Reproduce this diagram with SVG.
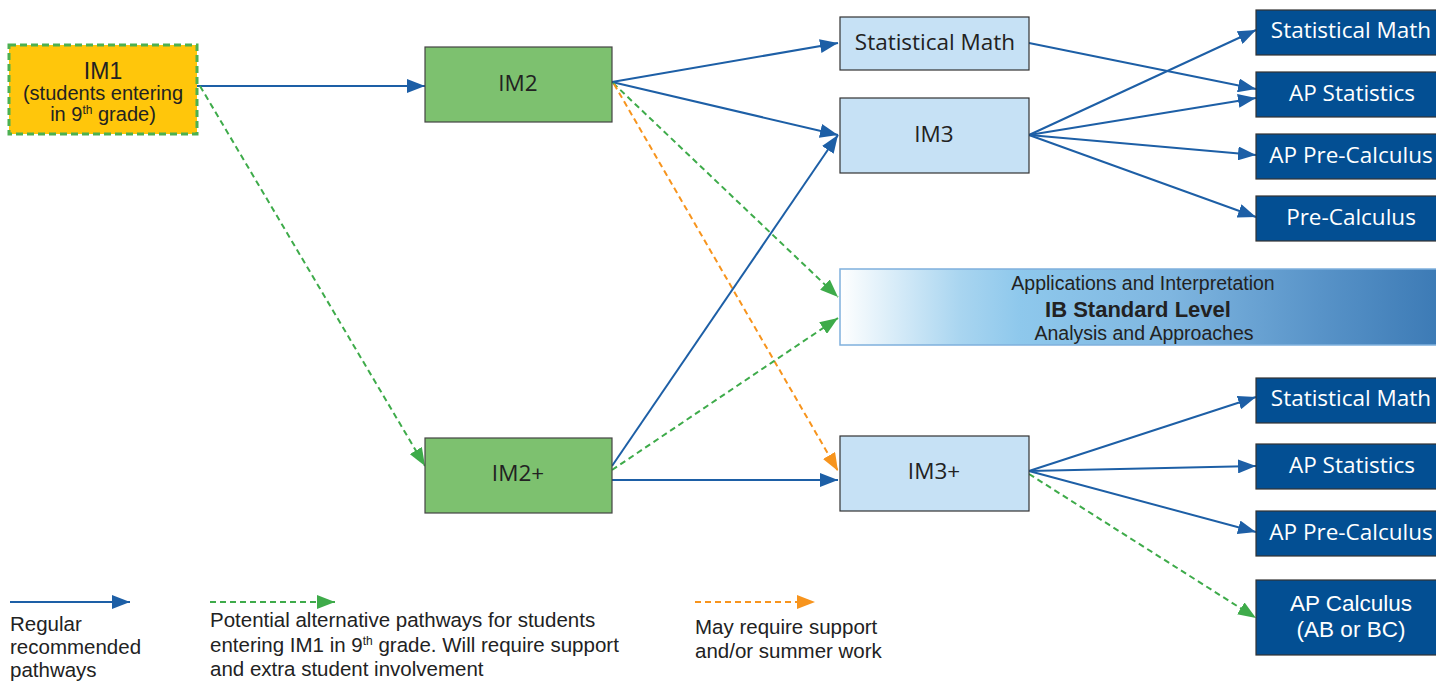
<svg xmlns="http://www.w3.org/2000/svg" width="1436" height="682" viewBox="0 0 1436 682">
<defs>
<linearGradient id="ibg" x1="0" y1="0" x2="1" y2="0">
<stop offset="0" stop-color="#ffffff"/>
<stop offset="0.2" stop-color="#a9d5f0"/>
<stop offset="0.3" stop-color="#8ec8ec"/>
<stop offset="0.55" stop-color="#7fb6e0"/>
<stop offset="0.8" stop-color="#5893c8"/>
<stop offset="1" stop-color="#3c7ab5"/>
</linearGradient>
<marker id="ab" markerUnits="userSpaceOnUse" markerWidth="20" markerHeight="14" refX="18" refY="7" orient="auto"><path d="M0,0 L18,7 L0,14 Z" fill="#1d5fa6"/></marker>
<marker id="ag" markerUnits="userSpaceOnUse" markerWidth="20" markerHeight="14" refX="18" refY="7" orient="auto"><path d="M0,0 L18,7 L0,14 Z" fill="#3eab4a"/></marker>
<marker id="ao" markerUnits="userSpaceOnUse" markerWidth="20" markerHeight="14" refX="18" refY="7" orient="auto"><path d="M0,0 L18,7 L0,14 Z" fill="#f7941d"/></marker>
</defs>
<style>
text{font-family:"Open Sans","Liberation Sans",sans-serif;text-anchor:middle}
.ls{font-family:"Liberation Sans",Arial,sans-serif}
.dk{fill:#034f93;stroke:#333;stroke-width:1.2}
.lt{fill:#c6e1f5;stroke:#333;stroke-width:1.2}
.gr{fill:#7dc16f;stroke:#444;stroke-width:1.2}
.tb{font-size:22.5px;fill:#222}
.tw{font-size:22.5px;fill:#fff}
.b{fill:none;stroke:#1d5fa6;stroke-width:2;marker-end:url(#ab)}
.g{fill:none;stroke:#3eab4a;stroke-width:2;stroke-dasharray:6,4;marker-end:url(#ag)}
.o{fill:none;stroke:#f7941d;stroke-width:2;stroke-dasharray:6,4;marker-end:url(#ao)}
.lg{font-family:"Liberation Sans",Arial,sans-serif;font-size:20.5px;fill:#222;text-anchor:start}
</style>
<g id="connectors">
<path class="b" d="M197,86 L425,86"/>
<path class="g" d="M200,86 L425,466"/>
<path class="b" d="M612,82 L838,43"/>
<path class="b" d="M612,82 L838,135"/>
<path class="g" d="M613,83 L838,297"/>
<path class="o" d="M614,84 L838,471"/>
<path class="b" d="M612,466 L838,135"/>
<path class="g" d="M612,470 L838,318"/>
<path class="b" d="M612,480 L838,480"/>
<path class="b" d="M1029,43 L1256,89"/>
<path class="b" d="M1029,135 L1256,30"/>
<path class="b" d="M1029,135 L1256,98"/>
<path class="b" d="M1029,135 L1256,155"/>
<path class="b" d="M1029,135 L1256,217"/>
<path class="b" d="M1029,471 L1256,397"/>
<path class="b" d="M1029,471 L1256,466"/>
<path class="b" d="M1029,471 L1256,532"/>
<path class="g" d="M1029,474 L1256,618"/>
</g>
<g id="im1">
<rect x="9" y="45" width="188" height="89" fill="#ffc60b" stroke="#4cb050" stroke-width="3" stroke-dasharray="7,4"/>
<text class="ls" x="103" y="79" font-size="23" fill="#222">IM1</text>
<text class="ls" x="103" y="100" font-size="20" fill="#222">(students entering</text>
<text class="ls" x="103" y="121" font-size="20" fill="#222">in 9<tspan font-size="12" dy="-7">th</tspan><tspan dy="7"> grade)</tspan></text>
</g>
<g id="im2"><rect class="gr" x="425" y="47" width="187" height="75"/><text class="tb" x="518" y="91">IM2</text></g>
<g id="im2p"><rect class="gr" x="425" y="438" width="187" height="75"/><text class="tb" x="518" y="481">IM2+</text></g>
<g id="statmath1"><rect class="lt" x="840" y="17" width="189" height="53"/><text class="tb" x="935" y="50">Statistical Math</text></g>
<g id="im3"><rect class="lt" x="840" y="98" width="189" height="75"/><text class="tb" x="934" y="142">IM3</text></g>
<g id="im3p"><rect class="lt" x="840" y="436" width="189" height="75"/><text class="tb" x="934" y="479">IM3+</text></g>
<g id="ib">
<rect x="840" y="269" width="600" height="76" fill="url(#ibg)" stroke="#7fb0dd" stroke-width="1.5"/>
<text class="ls" x="1143" y="290" font-size="19.5" fill="#222">Applications and Interpretation</text>
<text class="ls" x="1138" y="317" font-size="22" font-weight="bold" fill="#222">IB Standard Level</text>
<text class="ls" x="1144" y="340" font-size="19.5" fill="#222">Analysis and Approaches</text>
</g>
<g id="d1"><rect class="dk" x="1256" y="10" width="184" height="45"/><text class="tw" x="1351" y="38">Statistical Math</text></g>
<g id="d2"><rect class="dk" x="1256" y="72" width="184" height="45"/><text class="tw" x="1352" y="101">AP Statistics</text></g>
<g id="d3"><rect class="dk" x="1256" y="134" width="184" height="45"/><text class="tw" x="1351" y="163">AP Pre-Calculus</text></g>
<g id="d4"><rect class="dk" x="1256" y="196" width="184" height="45"/><text class="tw" x="1351" y="225">Pre-Calculus</text></g>
<g id="d5"><rect class="dk" x="1256" y="378" width="184" height="45"/><text class="tw" x="1351" y="406">Statistical Math</text></g>
<g id="d6"><rect class="dk" x="1256" y="444" width="184" height="45"/><text class="tw" x="1352" y="473">AP Statistics</text></g>
<g id="d7"><rect class="dk" x="1256" y="511" width="184" height="45"/><text class="tw" x="1351" y="540">AP Pre-Calculus</text></g>
<g id="d8"><rect class="dk" x="1256" y="580" width="184" height="75"/><text class="tw ls" x="1351" y="611" font-size="22">AP Calculus</text><text class="tw ls" x="1351" y="637" font-size="22">(AB or BC)</text></g>
<g id="legend">
<path class="b" d="M10,602 L130,602"/>
<path class="g" d="M210,602 L335,602"/>
<path class="o" d="M695,602 L815,602"/>
<text class="lg" x="10" y="631" font-size="20">Regular</text>
<text class="lg" x="10" y="654" font-size="20">recommended</text>
<text class="lg" x="10" y="677" font-size="20">pathways</text>
<text class="lg" x="210" y="627">Potential alternative pathways for students</text>
<text class="lg" x="210" y="652">entering IM1 in 9<tspan font-size="12" dy="-7">th</tspan><tspan dy="7"> grade. Will require support</tspan></text>
<text class="lg" x="210" y="676">and extra student involvement</text>
<text class="lg" x="695" y="634">May require support</text>
<text class="lg" x="695" y="658">and/or summer work</text>
</g>
</svg>
